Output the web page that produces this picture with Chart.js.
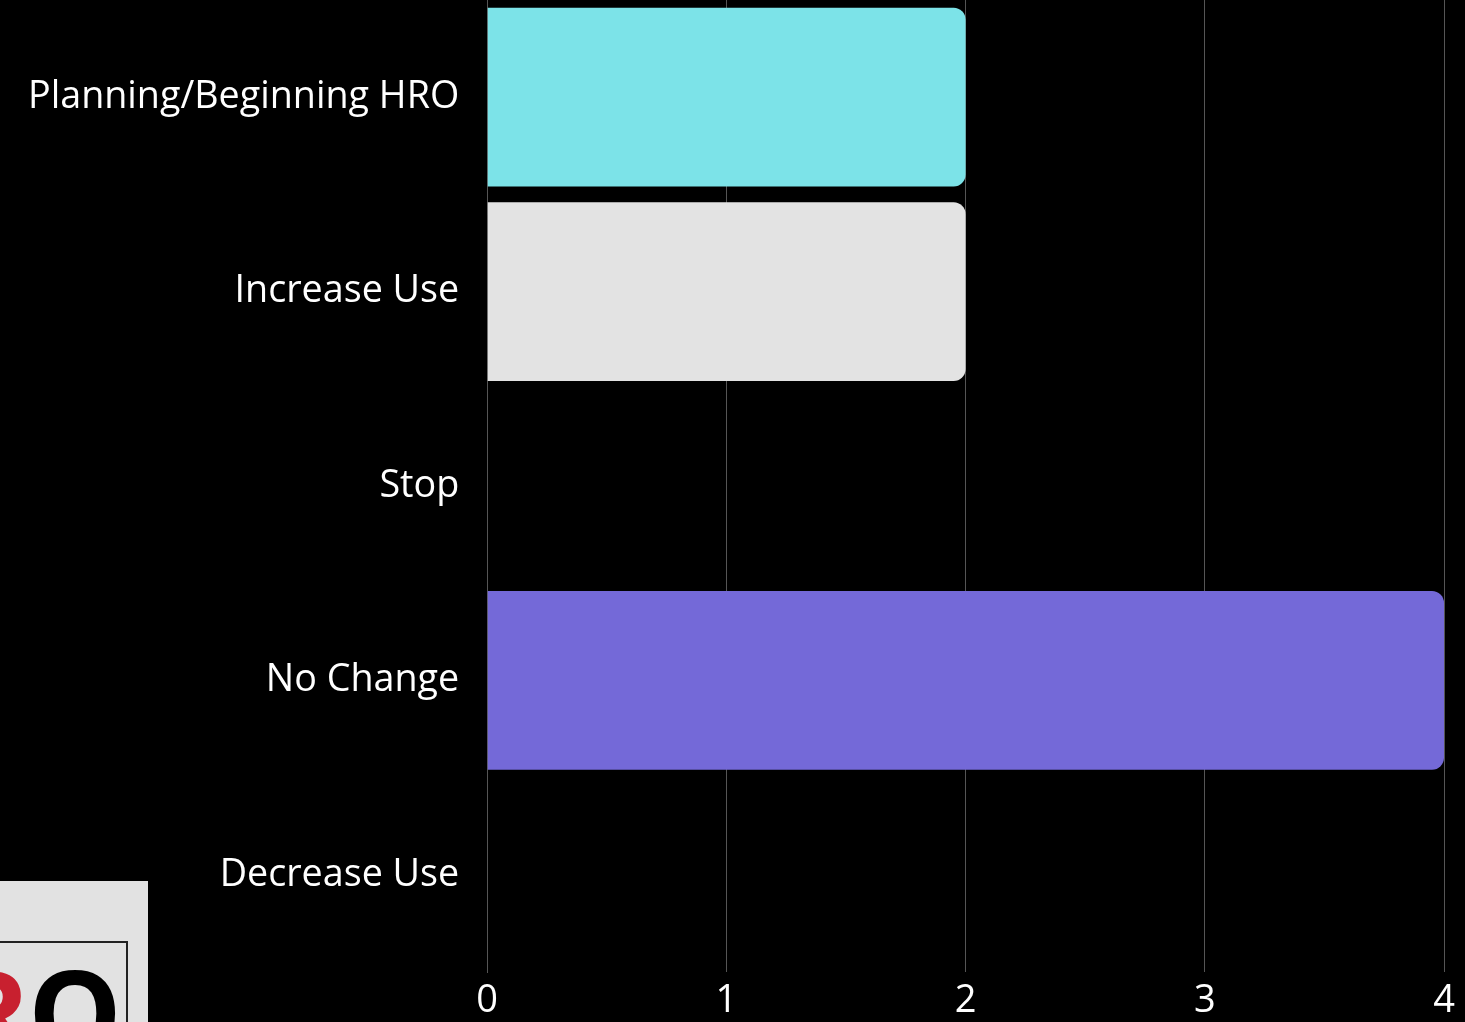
<!DOCTYPE html>
<html>
<head>
<meta charset="utf-8">
<script src="https://cdn.jsdelivr.net/npm/chart.js@4"></script>
<style>
  html, body { margin: 0; padding: 0; background: #000; overflow: hidden; }
  #wrap { position: absolute; left: 0; top: 0; width: 1465px; height: 1022px; }
  #logo { position: absolute; left: 0; top: 881px; width: 148px; height: 141px; background: #e2e2e2; overflow: hidden; }
  #logo .frame { position: absolute; left: -10px; top: 60px; width: 138px; height: 120px; border: 2px solid #222; box-sizing: border-box; }
  #logo .txt { position: absolute; left: -48px; top: 71px; font-family: "Open Sans", sans-serif; font-weight: 700; font-size: 118px; line-height: 1; letter-spacing: -2px; white-space: nowrap; }
  #logo .r { color: #c8202f; }
  #logo .o { color: #000; }
</style>
</head>
<body>
<div id="wrap"><canvas id="c" width="1465" height="1022"></canvas></div>
<div id="logo"><div class="frame"></div><div class="txt"><span class="r">R</span><span class="o">O</span></div></div>
<script>
const categories = ["Planning/Beginning HRO", "Increase Use", "Stop", "No Change", "Decrease Use"];
const values = [2, 2, 0, 4, 0];
const barColors = ["#7ce3e8", "#e3e3e3", "#ffffff", "#7469d8", "#ffffff"];
const xTicks = [0, 1, 2, 3, 4];

const ctx = document.getElementById('c').getContext('2d');
new Chart(ctx, {
  type: 'bar',
  data: {
    labels: categories,
    datasets: [{
      data: values,
      backgroundColor: barColors,
      borderRadius: 12,
      borderSkipped: 'start',
      barPercentage: 0.92,
      categoryPercentage: 1.0
    }]
  },
  options: {
    indexAxis: 'y',
    responsive: false,
    animation: false,
    devicePixelRatio: 1,
    layout: { padding: { left: 0, right: 21, top: 0, bottom: 0 } },
    plugins: { legend: { display: false }, tooltip: { enabled: false } },
    scales: {
      x: {
        min: 0, max: 4,
        afterBuildTicks: (axis) => { axis.ticks = xTicks.map(v => ({ value: v })); },
        afterFit: (axis) => { axis.paddingRight = 0; axis.paddingLeft = 0; axis.height = axis.height - 9; },
        grid: { color: '#555555', lineWidth: 1, drawTicks: false },
        border: { display: false },
        ticks: { color: '#ffffff', font: { family: 'Open Sans', size: 38 }, padding: 6.7, maxRotation: 0 }
      },
      y: {
        afterFit: (axis) => { axis.paddingTop = 0; axis.paddingBottom = 0; },
        grid: { display: false, drawTicks: false },
        border: { display: true, color: '#555555', width: 1 },
        ticks: { color: '#ffffff', font: { family: 'Open Sans', size: 37.7 }, padding: 28 }
      }
    }
  }
});
</script>
</body>
</html>
